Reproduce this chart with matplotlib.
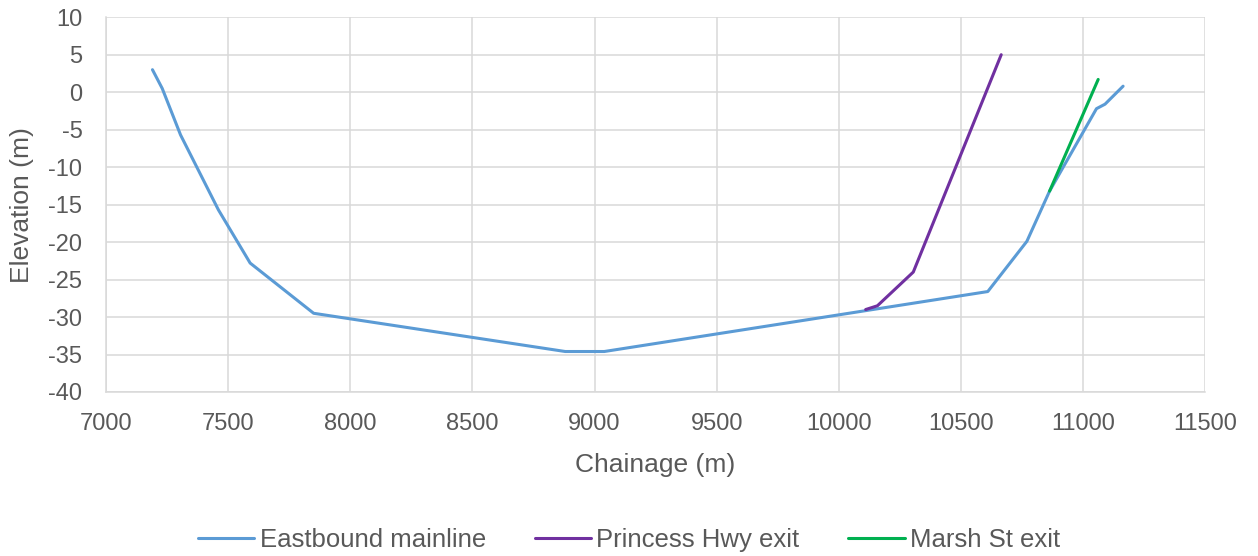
import matplotlib
matplotlib.use('Agg')
import matplotlib.pyplot as plt

plt.rcParams['font.family'] = ['Liberation Sans', 'DejaVu Sans']
plt.rcParams['axes.unicode_minus'] = False

# chainage (m) / elevation (m) for each alignment
main_x = [7190, 7230, 7305, 7460, 7590, 7850, 8880, 9040, 10610, 10770, 10863, 11055, 11090, 11164]
main_y = [3.0, 0.5, -5.7, -15.7, -22.8, -29.5, -34.6, -34.6, -26.6, -19.9, -13.2, -2.2, -1.6, 0.8]

princess_x = [10110, 10158, 10305, 10665]
princess_y = [-29.0, -28.5, -24.0, 5.0]

marsh_x = [10863, 11062]
marsh_y = [-13.2, 1.7]

series_labels = ['Eastbound mainline', 'Princess Hwy exit', 'Marsh St exit']
series_colors = ['#5B9BD5', '#7030A0', '#00B050']

text_col = '#595959'
grid_col = '#D9D9D9'

fig = plt.figure(figsize=(12.58, 5.56), dpi=100)
ax = fig.add_axes([0.0843, 0.295, 0.8737, 0.674])

for xs, ys, lab, col in zip([main_x, princess_x, marsh_x],
                            [main_y, princess_y, marsh_y],
                            series_labels, series_colors):
    ax.plot(xs, ys, color=col, linewidth=2.2, label=lab, solid_capstyle='round')

ax.set_xlim(7000, 11500)
ax.set_ylim(-40, 10)
ax.set_xticks(range(7000, 11501, 500))
ax.set_yticks(range(-40, 11, 5))
ax.grid(True, color=grid_col, linewidth=1.1)
ax.set_axisbelow(True)
for s in ax.spines.values():
    s.set_visible(False)
for side in ('bottom', 'left'):
    ax.spines[side].set_visible(True)
    ax.spines[side].set_color(grid_col)
    ax.spines[side].set_linewidth(1.1)
ax.tick_params(length=0, labelsize=17, colors=text_col)
ax.tick_params(axis='y', pad=17)
ax.tick_params(axis='x', pad=15)

ax.set_xlabel('Chainage (m)', fontsize=19, color=text_col)
ax.set_ylabel('Elevation (m)', fontsize=19, color=text_col)
ax.xaxis.set_label_coords(0.5, -0.163)
ax.yaxis.set_label_coords(-0.066, 0.5)

fig.legend(loc='center', bbox_to_anchor=(0.5, 0.028), ncol=3, frameon=False,
           fontsize=18.5, labelcolor=text_col, handlelength=2.2, handletextpad=0.2,
           columnspacing=1.9)

fig.savefig('out.png', dpi=100)
